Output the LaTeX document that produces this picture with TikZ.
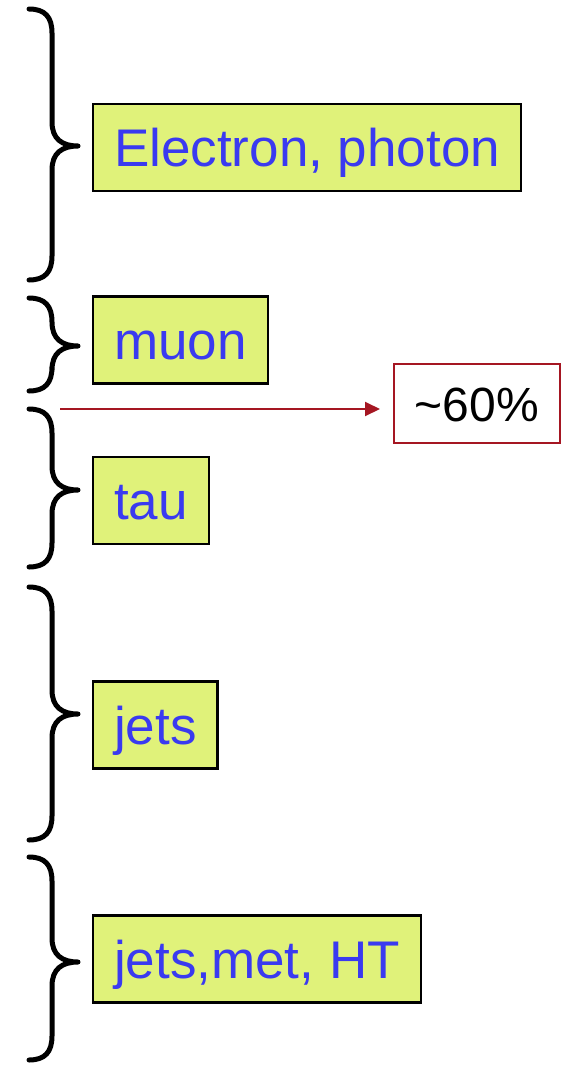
\documentclass[tikz,border=0pt]{standalone}
\usepackage{fontspec}
\setmainfont{Liberation Sans}
\usetikzlibrary{arrows.meta}
\definecolor{limefill}{RGB}{224,242,122}
\definecolor{textblue}{RGB}{58,58,240}
\definecolor{darkred}{RGB}{165,22,34}
\tikzset{
  catbox/.style={draw=black, line width=2.2pt, fill=limefill, text=textblue,
    font=\fontsize{53}{60}\selectfont, anchor=west, minimum height=87pt,
    text height=38pt, text depth=0pt,
    inner xsep=21pt, inner ysep=0pt},
  bracestyle/.style={draw=black, line width=5pt, line cap=round, line join=round},
  pctbox/.style={draw=darkred, line width=2pt, text=black,
    font=\fontsize{48}{56}\selectfont, minimum width=166pt, minimum height=79pt,
    text height=35pt, text depth=0pt, inner sep=0pt},
  redarrow/.style={draw=darkred, line width=2pt, -{Triangle[length=15pt,width=14pt]}}
}
\newcommand{\mybrace}[3]{%
  \draw[bracestyle] (29,#1) .. controls (45,#1) and (52,#1+8) .. (52,#1+24)
    -- (52,#2-24) .. controls (52,#2-7) and (62,#2) .. (78,#2)
    .. controls (62,#2) and (52,#2+7) .. (52,#2+24)
    -- (52,#3-24) .. controls (52,#3-8) and (45,#3) .. (29,#3);}
\begin{document}
\begin{tikzpicture}[x=1pt,y=-1pt]
\useasboundingbox (0,0) rectangle (562,1065);
% braces
\mybrace{9}{146}{280}
\mybrace{298}{346}{391}
\mybrace{409}{490}{567}
\mybrace{587}{714}{840}
\mybrace{857}{962}{1060}
% category boxes
\node[catbox] (ele) at (92,147.5) {Electron, photon};
\node[catbox] (muon) at (92,340) {muon};
\node[catbox] (tau) at (92,500.5) {tau};
\node[catbox] (jets) at (92,725) {jets};
\node[catbox] (jmh) at (92,959) {jets,met, HT};
% percentage box and arrow
\node[pctbox] (pct) at (477,403.5) {\textasciitilde 60\%};
\coordinate (astart) at (60,409);
\coordinate (aend) at (380,409);
\draw[redarrow] (astart) -- (aend);
\end{tikzpicture}
\end{document}
